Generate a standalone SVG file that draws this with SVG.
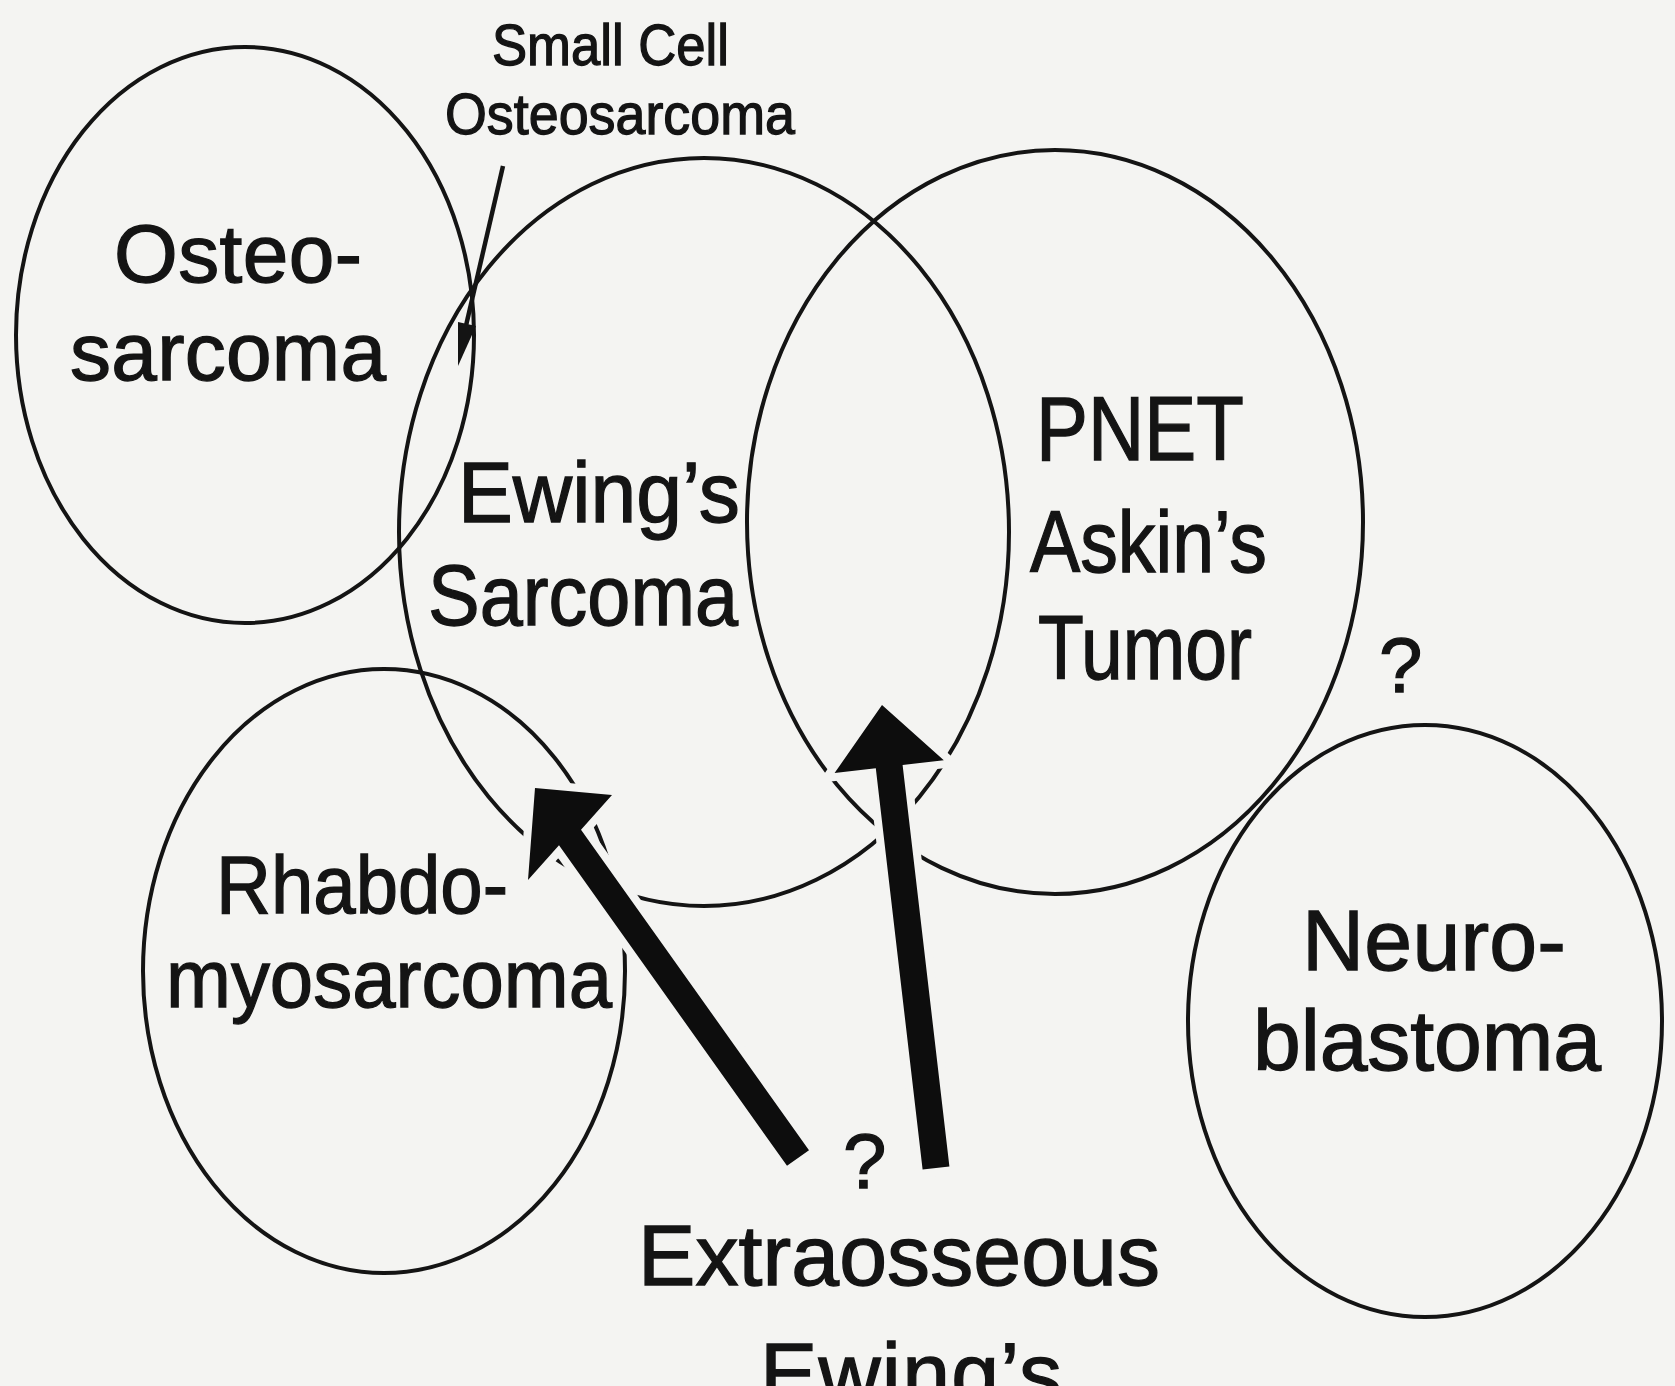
<svg xmlns="http://www.w3.org/2000/svg" width="1675" height="1386" viewBox="0 0 1675 1386">
<style>
.c{fill:none;stroke:#141414;stroke-width:4}
.t{font-family:"Liberation Sans",Arial,Helvetica,sans-serif;fill:#141414;stroke:#141414;stroke-width:1.3}
.big{fill:#0d0d0d;stroke:#f4f4f2;stroke-width:16;stroke-linejoin:miter;paint-order:stroke}
</style>
<rect width="1675" height="1386" fill="#f4f4f2"/>
<g id="osteosarcoma">
<ellipse class="c" cx="245" cy="335" rx="229" ry="288"/>
<text class="t" x="114" y="282" font-size="82" textLength="248">Osteo-</text>
<text class="t" x="70" y="380" font-size="82" textLength="316">sarcoma</text>
</g>
<g id="ewings">
<ellipse class="c" cx="704" cy="532" rx="305" ry="374"/>
<text class="t" x="458" y="522" font-size="85" textLength="282" lengthAdjust="spacingAndGlyphs">Ewing’s</text>
<text class="t" x="428" y="625" font-size="85" textLength="310" lengthAdjust="spacingAndGlyphs">Sarcoma</text>
</g>
<g id="pnet">
<ellipse class="c" cx="1055" cy="522" rx="308" ry="372"/>
<text class="t" x="1036" y="460" font-size="90" textLength="208" lengthAdjust="spacingAndGlyphs">PNET</text>
<text class="t" x="1030" y="572" font-size="88" textLength="237" lengthAdjust="spacingAndGlyphs">Askin’s</text>
<text class="t" x="1038" y="679" font-size="90" textLength="214" lengthAdjust="spacingAndGlyphs">Tumor</text>
</g>
<g id="rhabdomyosarcoma">
<ellipse class="c" cx="384" cy="971" rx="241" ry="302"/>
<text class="t" x="216" y="913" font-size="82" textLength="292" lengthAdjust="spacingAndGlyphs">Rhabdo-</text>
<text class="t" x="166" y="1007" font-size="82" textLength="446" lengthAdjust="spacingAndGlyphs">myosarcoma</text>
</g>
<g id="neuroblastoma">
<ellipse class="c" cx="1425" cy="1021" rx="237" ry="296"/>
<text class="t" x="1302" y="970" font-size="86" textLength="264">Neuro-</text>
<text class="t" x="1253" y="1070" font-size="86" textLength="348">blastoma</text>
</g>
<g id="small-cell-label">
<text class="t" x="492" y="65" font-size="57" textLength="237" lengthAdjust="spacingAndGlyphs" stroke-width="1">Small Cell</text>
<text class="t" x="445" y="134" font-size="58" textLength="350" lengthAdjust="spacingAndGlyphs" stroke-width="1">Osteosarcoma</text>
</g>
<g id="extraosseous-label">
<text class="t" x="638" y="1285" font-size="86" textLength="522">Extraosseous</text>
<text class="t" x="760" y="1403" font-size="86" textLength="302">Ewing’s</text>
</g>
<g id="question-marks">
<text class="t" x="1379" y="692" font-size="78">?</text>
<text class="t" x="843" y="1188" font-size="78">?</text>
</g>
<g id="connectors">
<line x1="503" y1="166" x2="465" y2="330" stroke="#141414" stroke-width="4.5"/>
<polygon points="458,366 476,326 458,322" fill="#141414"/>
<polygon class="big" points="535,788 612,795 581,829.7 809,1150.2 787,1165.8 559,845.3 528,880"/>
<polygon class="big" points="882,705 943.8,760.2 902.6,765 949.4,1166.4 922.6,1169.6 875.8,768.2 834.6,773"/>
</g>
</svg>
